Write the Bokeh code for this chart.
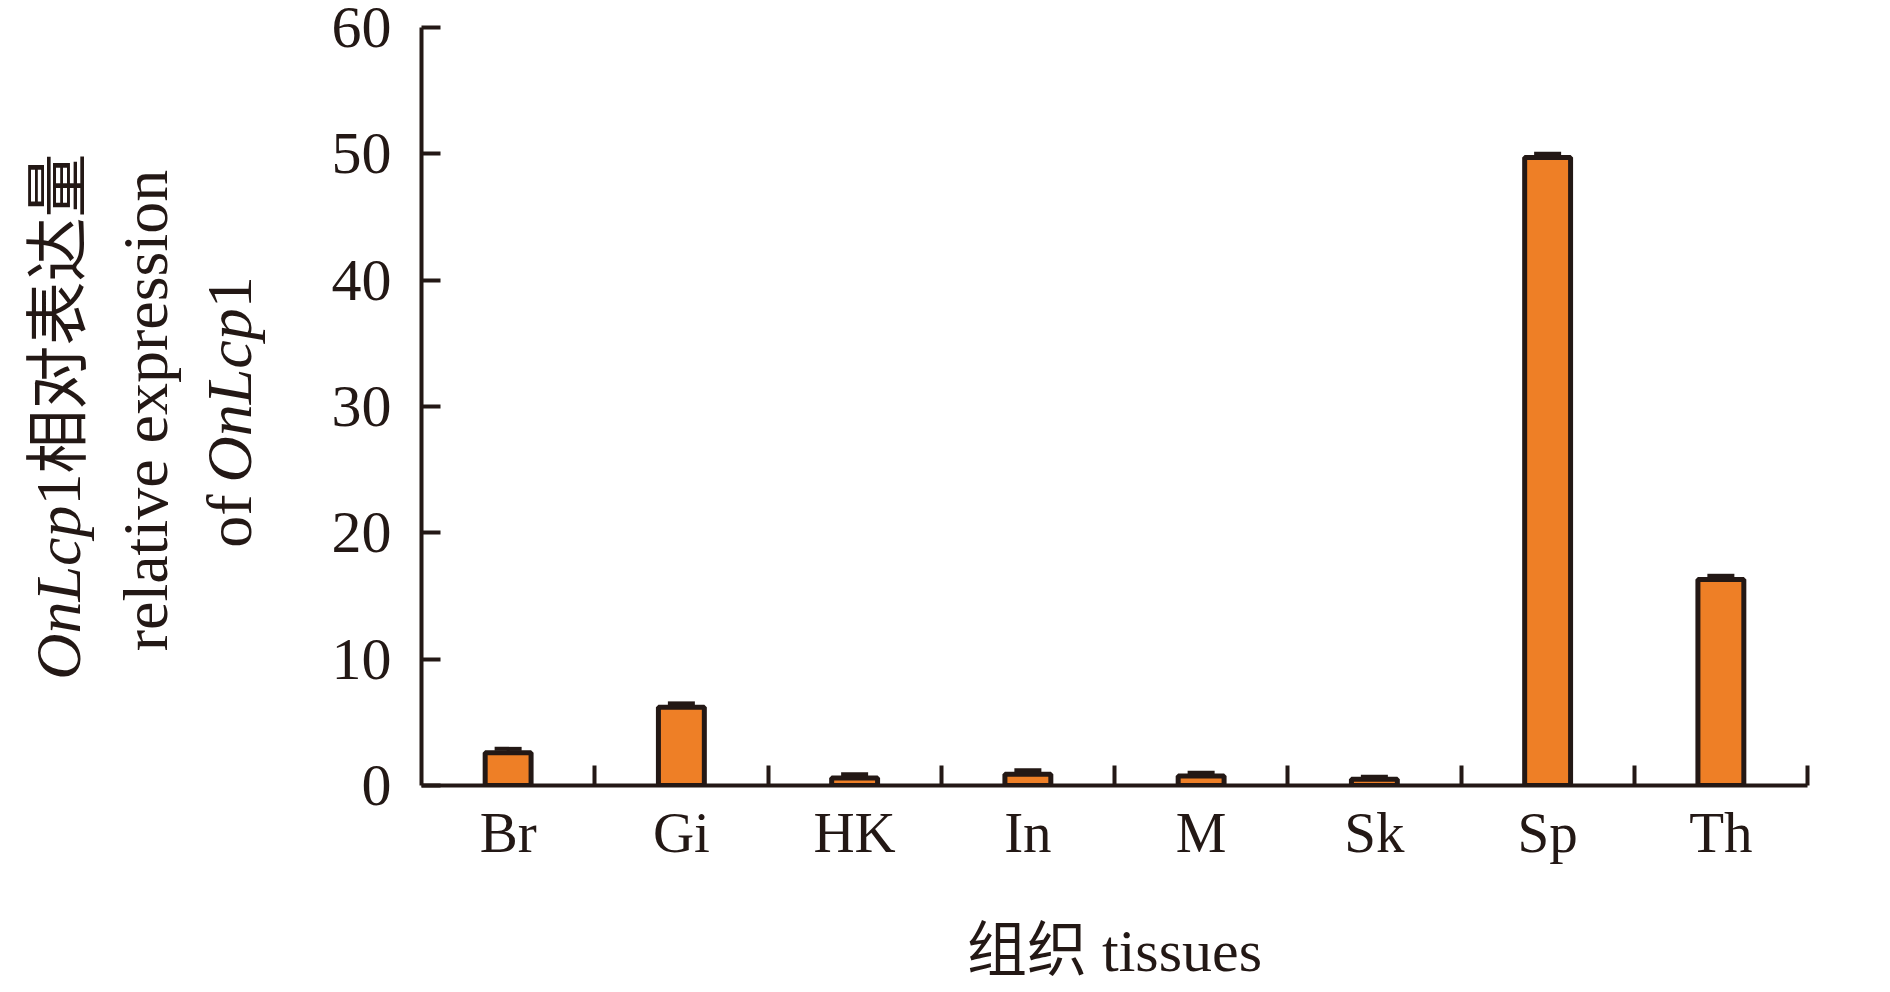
import numpy as np
from bokeh.plotting import figure
from bokeh.layouts import row
from bokeh.models import ColumnDataSource, FixedTicker, Whisker, TeeHead, Range1d
from bokeh.core.properties import value
from bokeh.embed import file_html
from bokeh.resources import INLINE

# ---------------- data ----------------
categories = ["Br", "Gi", "HK", "In", "M", "Sk", "Sp", "Th"]
expression = [2.6, 6.2, 0.6, 0.9, 0.75, 0.5, 49.7, 16.3]
error = [0.3, 0.3, 0.3, 0.3, 0.25, 0.2, 0.3, 0.3]
y_ticks = [0, 10, 20, 30, 40, 50, 60]
y_max = 60
x_title = "组织 tissues"
gene = "OnLcp"
gene_suffix = "1"
y_line1_rest = "1相对表达量"
y_line2 = "relative expression"
y_line3_prefix = "of"

# ---------------- style ----------------
INK = "#231815"
ORANGE = "#EE7F26"
SERIF = "'Liberation Serif', 'Noto Sans CJK SC'"

H = 990
LW = 300                               # width of the y-title strip
FL, FT, FR, FB = 421, 27, 1807, 785    # frame edges in page px
W2 = 1580
n = len(categories)

centers = [i + 0.5 for i in range(n)]
bounds = [i + 1 for i in range(n)]
uppers = [v + e for v, e in zip(expression, error)]
src = ColumnDataSource(dict(x=centers, top=expression, upper=uppers, cat=categories))

p = figure(width=W2, height=H,
           x_range=Range1d(0, n), y_range=Range1d(0, y_max),
           output_backend="svg", toolbar_location=None,
           min_border_left=FL - LW, min_border_top=FT,
           min_border_right=LW + W2 - FR, min_border_bottom=H - FB)
p.outline_line_color = None
p.xgrid.visible = False
p.ygrid.visible = False

p.vbar(x="x", top="top", bottom=0, width=0.265, source=src,
       fill_color=ORANGE, line_color=INK, line_width=5)

wh = Whisker(base="x", upper="upper", lower="top", source=src, dimension="height",
             line_color=INK, line_width=3,
             upper_head=TeeHead(size=27, line_width=4, line_color=INK),
             lower_head=None)
p.add_layout(wh)

# x axis: labels at category centres, tick marks at category boundaries
xa = p.xaxis[0]
xa.ticker = FixedTicker(ticks=centers, minor_ticks=bounds)
xa.major_label_overrides = {c: lab for c, lab in zip(centers, categories)}
xa.major_tick_in = 0
xa.major_tick_out = 0
xa.minor_tick_in = 20
xa.minor_tick_out = 0
xa.minor_tick_line_width = 4
xa.minor_tick_line_color = INK
xa.axis_line_width = 4
xa.axis_line_color = INK
xa.major_label_text_font = SERIF
xa.major_label_text_font_size = "57px"
xa.major_label_text_color = INK
xa.major_label_standoff = 15
xa.axis_label = x_title
xa.axis_label_text_font = SERIF
xa.axis_label_text_font_size = "60px"
xa.axis_label_text_font_style = "normal"
xa.axis_label_text_color = INK
xa.axis_label_standoff = 51

# y axis
ya = p.yaxis[0]
ya.ticker = FixedTicker(ticks=y_ticks)
ya.major_tick_in = 19
ya.major_tick_out = 0
ya.minor_tick_in = 0
ya.minor_tick_out = 0
ya.major_tick_line_width = 4
ya.major_tick_line_color = INK
ya.axis_line_width = 4
ya.axis_line_color = INK
ya.major_label_text_font = SERIF
ya.major_label_text_font_size = "60px"
ya.major_label_text_color = INK
ya.major_label_standoff = 30

# ---------------- rotated multi-part y title (separate strip) ----------------
F = 64
q = figure(width=LW, height=H, x_range=Range1d(0, LW), y_range=Range1d(0, FB - FT),
           output_backend="svg", toolbar_location=None,
           x_axis_type=None, y_axis_type=None,
           min_border_left=0, min_border_right=0,
           min_border_top=FT, min_border_bottom=H - FB)
q.outline_line_color = None
q.xgrid.visible = False
q.ygrid.visible = False

def ylab(px, py, text, align, italic=False):
    q.text(x=[px], y=[FB - py], text=[text], angle=np.pi / 2,
           text_align=align, text_baseline="middle",
           text_font=value(SERIF), text_font_size=value(f"{F}px"),
           text_color=INK, text_font_style="italic" if italic else "normal")

# line 1: OnLcp1相对表达量
ylab(58, 505, gene, "right", italic=True)
ylab(58, 505, y_line1_rest, "left")
# line 2: relative expression
ylab(145, 410, y_line2, "center")
# line 3: of OnLcp1
ylab(229, 494, y_line3_prefix, "right")
ylab(229, 482, gene, "left", italic=True)
ylab(229, 482 - 2.722 * F, gene_suffix, "left")

layout = row(q, p)
open("out.html", "w").write(file_html(layout, INLINE))
